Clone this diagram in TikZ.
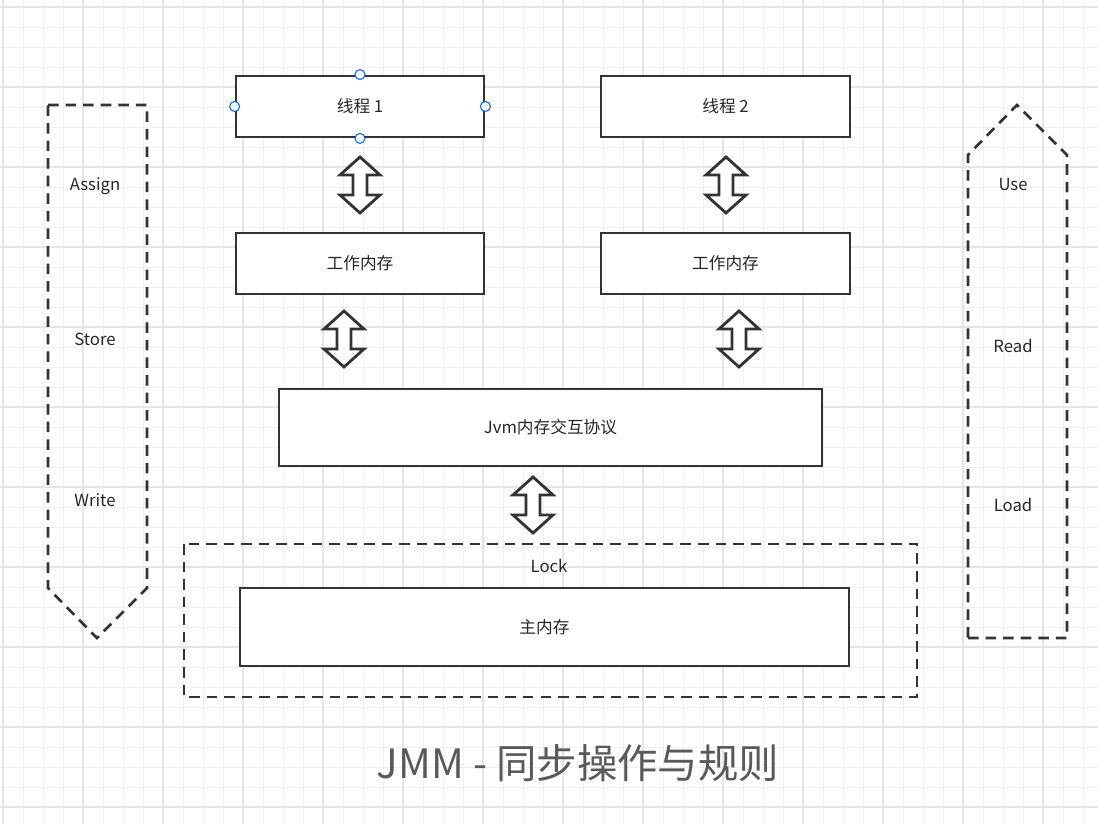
\documentclass[tikz,border=0pt]{standalone}
\usepackage{fontspec}
\setmainfont{Noto Sans CJK SC}
\begin{document}
\begin{tikzpicture}[x=0.02cm,y=-0.02cm,
  box/.style={draw=black!80,line width=1.6pt,fill=white,inner sep=0pt,font=\fontsize{9.5}{11}\selectfont,text=black!85},
  dbl/.style={draw=black!80,line width=1.6pt,fill=white,line join=miter},
  dsh/.style={draw=black!80,line width=1.5pt,dash pattern=on 6pt off 4pt},
  lbl/.style={font=\fontsize{9.5}{11}\selectfont,text=black!85},
  hdl/.style={circle,draw=blue!60!cyan,fill=white,line width=0.6pt,inner sep=0pt,minimum size=0.2cm}]
\useasboundingbox (0,0) rectangle (1098,824);
\fill[white] (0,0) rectangle (1098,824);
\foreach \i in {0,...,55} {\draw[black!6,line width=0.5pt] (3+20*\i,0) -- (3+20*\i,824);}
\foreach \i in {0,...,41} {\draw[black!6,line width=0.5pt] (0,7+20*\i) -- (1098,7+20*\i);}
\foreach \i in {0,...,13} {\draw[black!10,line width=0.6pt] (3+80*\i,0) -- (3+80*\i,824);}
\foreach \i in {0,...,10} {\draw[black!10,line width=0.6pt] (0,7+80*\i) -- (1098,7+80*\i);}
\newcommand\dblarrow[3]{\draw[dbl] (#1,#2) -- (#1+20,#2+18) -- (#1+7,#2+18) -- (#1+7,#3-18) -- (#1+20,#3-18) -- (#1,#3) -- (#1-20,#3-18) -- (#1-7,#3-18) -- (#1-7,#2+18) -- (#1-20,#2+18) -- cycle;}
% boxes
\node[box,minimum width=4.96cm,minimum height=1.22cm] (t1) at (360,106.5) {线程 1};
\node[box,minimum width=4.98cm,minimum height=1.22cm] (t2) at (725.5,106.5) {线程 2};
\node[box,minimum width=4.96cm,minimum height=1.22cm] (w1) at (360,263.5) {工作内存};
\node[box,minimum width=4.98cm,minimum height=1.22cm] (w2) at (725.5,263.5) {工作内存};
\node[box,minimum width=10.86cm,minimum height=1.54cm] (jvm) at (550.5,427.5) {Jvm内存交互协议};
\draw[dsh] (184,544) rectangle (917,697);
\node[lbl] (lock) at (549,566) {Lock};
\node[box,minimum width=12.18cm,minimum height=1.56cm] (main) at (544.5,627) {主内存};
% handles
\node[hdl] at (t1.north) {};
\node[hdl] at (t1.south) {};
\node[hdl] at (t1.west) {};
\node[hdl] at (t1.east) {};
% double arrows
\dblarrow{360}{157}{213}
\dblarrow{726}{157}{213}
\dblarrow{344}{311}{367}
\dblarrow{739}{311}{367}
\dblarrow{533}{477}{533}
% side arrows
\draw[dsh,line join=miter] (48,105) -- (147,105) -- (147,588) -- (97,638) -- (48,588) -- cycle;
\draw[dsh,line join=miter] (968,638) -- (1067,638) -- (1067,155) -- (1017,105) -- (968,155) -- cycle;
\node[lbl] at (95,186) {Assign};
\node[lbl] at (95,339) {Store};
\node[lbl] at (95,500) {Write};
\node[lbl] at (1013,184) {Use};
\node[lbl] at (1013,346) {Read};
\node[lbl] at (1013,505) {Load};
\node[font=\fontsize{23}{27}\selectfont,text=black!65] at (578,763) {JMM - 同步操作与规则};
\end{tikzpicture}
\end{document}
